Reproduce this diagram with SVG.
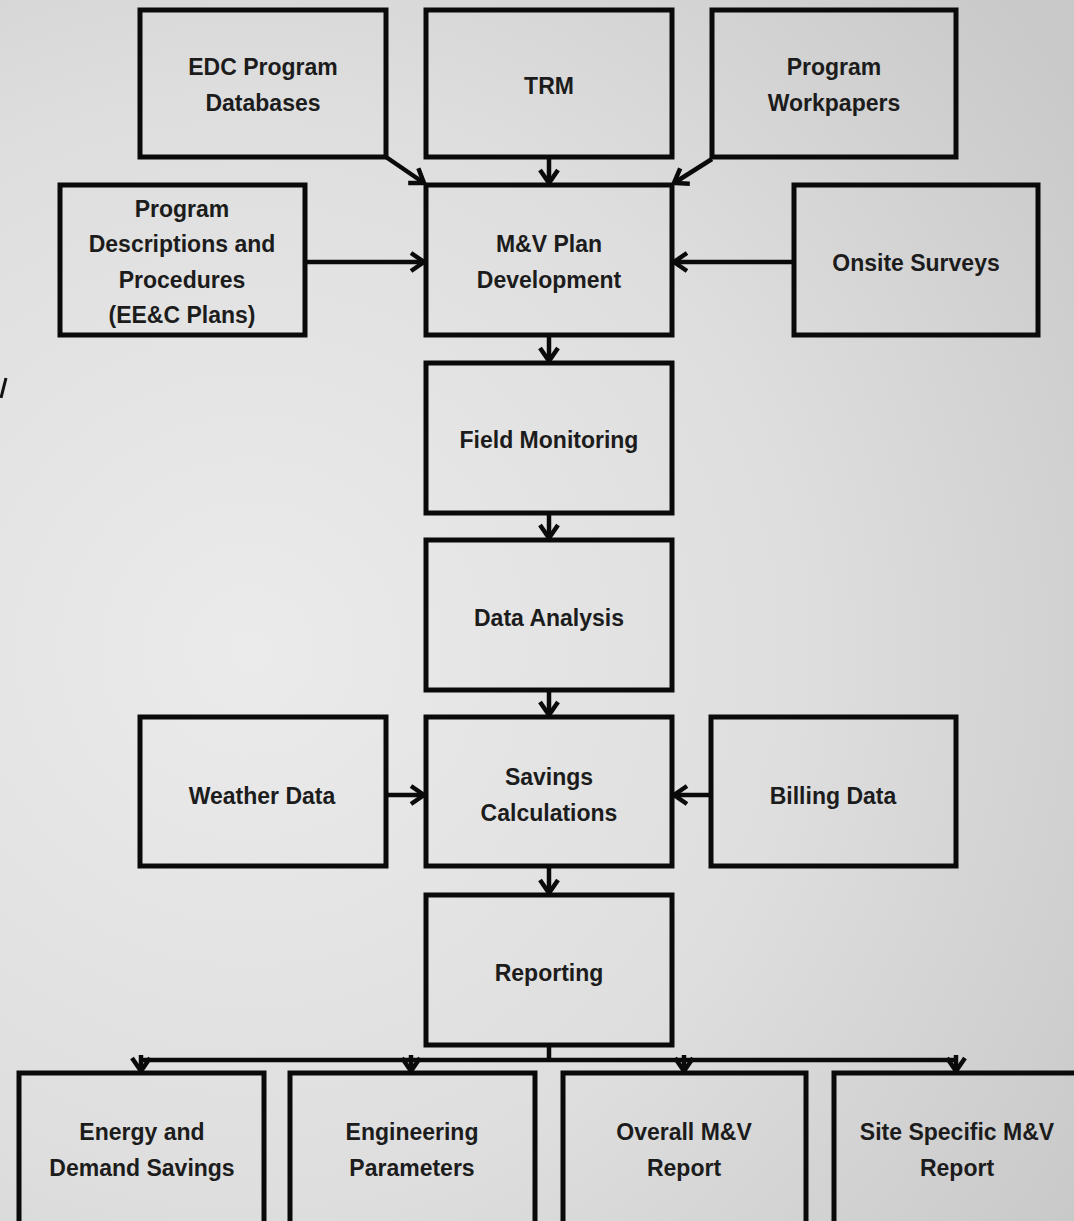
<svg xmlns="http://www.w3.org/2000/svg" width="1074" height="1221" viewBox="0 0 1074 1221">
<defs>
<radialGradient id="bg" cx="250" cy="650" r="1000" gradientUnits="userSpaceOnUse">
<stop offset="0" stop-color="#ebebeb"/>
<stop offset="0.55" stop-color="#dedede"/>
<stop offset="1" stop-color="#c9c9c9"/>
</radialGradient>
<marker id="ah" markerUnits="userSpaceOnUse" markerWidth="20" markerHeight="24" refX="15" refY="11" orient="auto">
<path d="M2,2 L15,11 L2,20" fill="none" stroke="#0a0a0a" stroke-width="4.5" stroke-linejoin="miter"/>
</marker>
</defs>
<style>
.box{fill:none;stroke:#0a0a0a;stroke-width:5}
.t{font-family:"Liberation Sans",Arial,sans-serif;font-weight:bold;font-size:23px;fill:#1c1c1c;text-anchor:middle}
.c{fill:none;stroke:#0a0a0a;stroke-width:4.5}
</style>
<rect width="1074" height="1221" fill="url(#bg)"/>
<path d="M6,378 L1,398" stroke="#111" stroke-width="3"/>
<g id="edc"><rect class="box" x="140" y="10" width="246" height="147"/><text class="t" x="263" y="75">EDC Program</text><text class="t" x="263" y="111">Databases</text></g>
<g id="trm"><rect class="box" x="426" y="10" width="246" height="147"/><text class="t" x="549" y="94">TRM</text></g>
<g id="workpapers"><rect class="box" x="712" y="10" width="244" height="147"/><text class="t" x="834" y="75">Program</text><text class="t" x="834" y="111">Workpapers</text></g>
<g id="descriptions"><rect class="box" x="60" y="185" width="245" height="150"/><text class="t" x="182" y="217">Program</text><text class="t" x="182" y="252">Descriptions and</text><text class="t" x="182" y="288">Procedures</text><text class="t" x="182" y="323">(EE&amp;C Plans)</text></g>
<g id="mvplan"><rect class="box" x="426" y="185" width="246" height="150"/><text class="t" x="549" y="252">M&amp;V Plan</text><text class="t" x="549" y="288">Development</text></g>
<g id="onsite"><rect class="box" x="794" y="185" width="244" height="150"/><text class="t" x="916" y="271">Onsite Surveys</text></g>
<g id="field"><rect class="box" x="426" y="363" width="246" height="150"/><text class="t" x="549" y="448">Field Monitoring</text></g>
<g id="analysis"><rect class="box" x="426" y="540" width="246" height="150"/><text class="t" x="549" y="626">Data Analysis</text></g>
<g id="weather"><rect class="box" x="140" y="717" width="246" height="149"/><text class="t" x="262" y="804">Weather Data</text></g>
<g id="savings"><rect class="box" x="426" y="717" width="246" height="149"/><text class="t" x="549" y="785">Savings</text><text class="t" x="549" y="821">Calculations</text></g>
<g id="billing"><rect class="box" x="711" y="717" width="245" height="149"/><text class="t" x="833" y="804">Billing Data</text></g>
<g id="reporting"><rect class="box" x="426" y="895" width="246" height="150"/><text class="t" x="549" y="981">Reporting</text></g>
<g id="energy"><rect class="box" x="19" y="1073" width="245" height="160"/><text class="t" x="142" y="1140">Energy and</text><text class="t" x="142" y="1176">Demand Savings</text></g>
<g id="engineering"><rect class="box" x="290" y="1073" width="245" height="160"/><text class="t" x="412" y="1140">Engineering</text><text class="t" x="412" y="1176">Parameters</text></g>
<g id="overall"><rect class="box" x="563" y="1073" width="243" height="160"/><text class="t" x="684" y="1140">Overall M&amp;V</text><text class="t" x="684" y="1176">Report</text></g>
<g id="sitespecific"><rect class="box" x="834" y="1073" width="250" height="160"/><text class="t" x="957" y="1140">Site Specific  M&amp;V</text><text class="t" x="957" y="1176">Report</text></g>
<g id="connectors">
<line class="c" x1="549" y1="159" x2="549" y2="183" marker-end="url(#ah)"/>
<line class="c" x1="386" y1="157" x2="424" y2="183" marker-end="url(#ah)"/>
<line class="c" x1="712" y1="159" x2="674" y2="183" marker-end="url(#ah)"/>
<line class="c" x1="307" y1="262" x2="424" y2="262" marker-end="url(#ah)"/>
<line class="c" x1="792" y1="262" x2="674" y2="262" marker-end="url(#ah)"/>
<line class="c" x1="549" y1="337" x2="549" y2="361" marker-end="url(#ah)"/>
<line class="c" x1="549" y1="515" x2="549" y2="538" marker-end="url(#ah)"/>
<line class="c" x1="549" y1="692" x2="549" y2="715" marker-end="url(#ah)"/>
<line class="c" x1="388" y1="795" x2="424" y2="795" marker-end="url(#ah)"/>
<line class="c" x1="709" y1="795" x2="674" y2="795" marker-end="url(#ah)"/>
<line class="c" x1="549" y1="868" x2="549" y2="893" marker-end="url(#ah)"/>
<line class="c" x1="549" y1="1047" x2="549" y2="1060"/>
<line class="c" x1="139" y1="1060" x2="956" y2="1060"/>
<line class="c" x1="141" y1="1055" x2="141" y2="1071" marker-end="url(#ah)"/>
<line class="c" x1="411" y1="1055" x2="411" y2="1071" marker-end="url(#ah)"/>
<line class="c" x1="684" y1="1055" x2="684" y2="1071" marker-end="url(#ah)"/>
<line class="c" x1="956" y1="1055" x2="956" y2="1071" marker-end="url(#ah)"/>
</g>
</svg>
